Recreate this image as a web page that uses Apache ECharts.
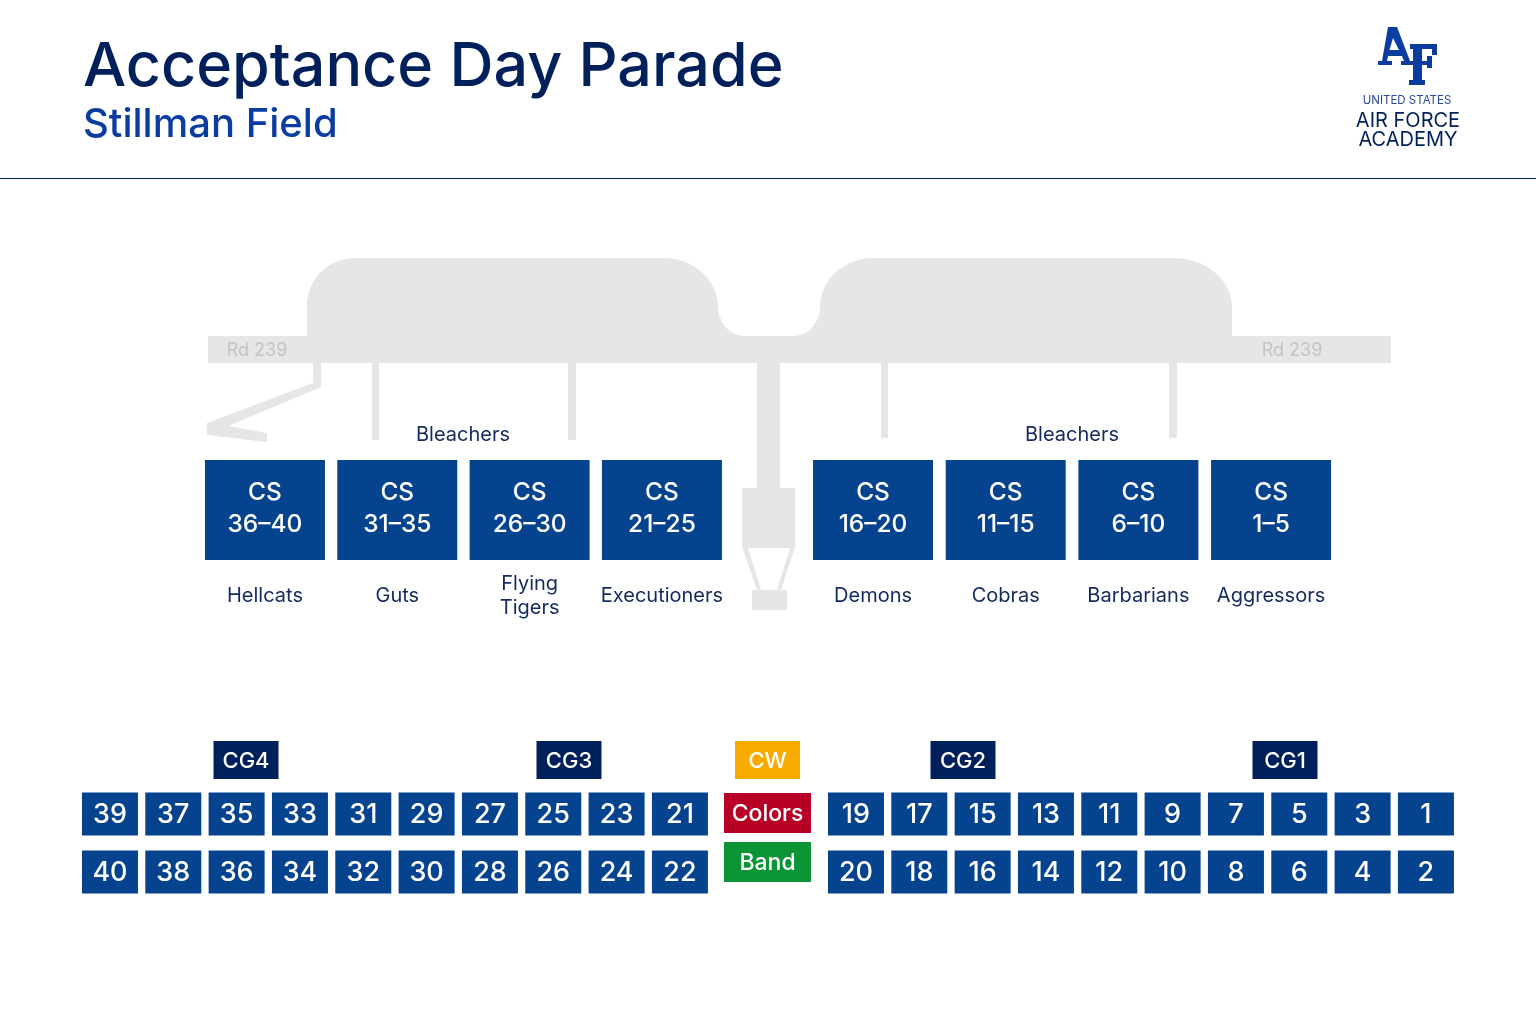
<!DOCTYPE html>
<html>
<head>
<meta charset="utf-8">
<title>Acceptance Day Parade</title>
<script src="https://cdn.jsdelivr.net/npm/echarts@6/dist/echarts.min.js"></script>
<style>
  html, body { margin: 0; background: #fff; }
  #chart { width: 1536px; height: 1024px; }
</style>
</head>
<body>
<div id="chart"></div>
<script>
// chart data
var csLeft = ['CS\n36–40', 'CS\n31–35', 'CS\n26–30', 'CS\n21–25'];
var csRight = ['CS\n16–20', 'CS\n11–15', 'CS\n6–10', 'CS\n1–5'];
var namesLeft = ['Hellcats', 'Guts', 'Flying\nTigers', 'Executioners'];
var namesRight = ['Demons', 'Cobras', 'Barbarians', 'Aggressors'];
var oddLeft = ['39', '37', '35', '33', '31', '29', '27', '25', '23', '21'];
var evenLeft = ['40', '38', '36', '34', '32', '30', '28', '26', '24', '22'];
var oddRight = ['19', '17', '15', '13', '11', '9', '7', '5', '3', '1'];
var evenRight = ['20', '18', '16', '14', '12', '10', '8', '6', '4', '2'];
var groupsLeft = ['CG4', 'CG3'];
var groupsRight = ['CG2', 'CG1'];
var wing = ['CW'];
var centre = ['Colors', 'Band'];

var FONT = 'Inter';
var NAVY = '#00205b', BLUE = '#06438f', ROYAL = '#0b3da0', GREY = '#e6e6e6';

var grids = [], xAxes = [], yAxes = [], series = [];

// site plan and logo outlines, drawn once behind everything
var groundPath = 'M208,336 L307,336 L307,307 C307,278 328,258 357,258 L663,258 ' +
  'C694,258 718,280 718,307 C718,312 719,315 720,317 C723,328 733,336 745,336 L793,336 ' +
  'C805,336 815,328 818,317 C819,315 820,312 820,307 C820,280 844,258 873,258 L1173,258 ' +
  'C1206,258 1232,280 1232,307 L1232,336 L1391,336 L1391,363 L780,363 L780,488 L795,488 ' +
  'L795,547 L781,590 L787,590 L787,610 L752,610 L752,590 L757,590 L742,547 L742,488 L757,488 ' +
  'L757,363 L208,363 Z M748,548 L761,590 L777,590 L790,548 Z';
var logoA = 'M1388,27 L1397,27 L1410,61 L1427,61 L1427,56 L1432,56 L1432,68 L1427,68 L1427,65 L1401,65 ' +
  'L1401,61 L1404,61 L1402,56 L1388,56 L1387,61 L1392,61 L1392,65 L1378,65 L1378,61 L1382,61 Z ' +
  'M1393,38 L1389.5,50 L1399,50 Z';
var logoF = 'M1410,44 L1437,44 L1437,55 L1432,55 L1432,49 L1422,49 L1422,80 L1425,80 L1425,85 L1409,85 ' +
  'L1409,80 L1413,80 L1413,49 L1410,49 Z';

function outline(d, x, y, w, h, fill) {
  return { type: 'path', shape: { pathData: d, layout: 'cover', x: x, y: y, width: w, height: h }, style: { fill: fill } };
}

series.push({
  type: 'custom', coordinateSystem: 'none', silent: true, z: 0, data: [0],
  renderItem: function () {
    return {
      type: 'group',
      children: [
        outline(groundPath, 208, 258, 1183, 352, GREY),
        outline(logoA, 1378, 27, 54, 41, ROYAL),
        outline(logoF, 1409, 44, 28, 41, ROYAL)
      ]
    };
  }
});

// one block = a grid with its own band axes, cells are drawn in the middle of each band
function addBlock(rect, cols, rows, cells, box, xLabel) {
  var i = grids.length;
  grids.push({ left: rect[0], top: rect[1], width: rect[2], height: rect[3] });
  xAxes.push({
    gridIndex: i, type: 'category', data: cols, show: !!xLabel,
    axisLine: { show: false }, axisTick: { show: false }, axisLabel: xLabel || {}
  });
  yAxes.push({ gridIndex: i, type: 'category', data: rows, inverse: true, show: false });
  series.push({
    type: 'custom', xAxisIndex: i, yAxisIndex: i, silent: true, clip: false, z: 2,
    data: cells.map(function (c) { return { name: c.text, value: [c.col, c.row] }; }),
    renderItem: function (params, api) {
      var p = api.coord([api.value(0), api.value(1)]);
      var cell = cells[params.dataIndex];
      return {
        type: 'group',
        children: [{
          type: 'rect',
          shape: { x: p[0] - box.w / 2, y: p[1] - box.h / 2, width: box.w, height: box.h },
          style: { fill: cell.fill || box.fill }
        }, {
          type: 'text',
          style: {
            text: cell.text, x: p[0], y: p[1] + (box.dy || 0), fill: '#fff',
            font: '500 ' + box.size + 'px ' + FONT, lineHeight: box.lh || box.size,
            align: 'center', verticalAlign: 'middle'
          }
        }]
      };
    }
  });
}

function rowCells(list, row) {
  return list.map(function (t, k) { return { text: t, col: k, row: row }; });
}

var nameLabel = {
  interval: 0, margin: 36, verticalAlign: 'middle', align: 'center',
  color: '#14295e', fontFamily: FONT, fontSize: 20, lineHeight: 24
};
var csBox = { w: 120, h: 100, fill: BLUE, size: 24.5, lh: 32, dy: -1 };
var sqBox = { w: 56, h: 43, fill: BLUE, size: 27, dy: 1 };
var cgBox = { w: 65, h: 38, fill: NAVY, size: 22, dy: 1 };

addBlock([198.8, 460, 529.3, 100], namesLeft, ['cs'], rowCells(csLeft, 0), csBox, nameLabel);
addBlock([806.7, 460, 530.7, 100], namesRight, ['cs'], rowCells(csRight, 0), csBox, nameLabel);

addBlock([78.3, 785, 633.3, 116], oddLeft, ['odd', 'even'],
  rowCells(oddLeft, 0).concat(rowCells(evenLeft, 1)), sqBox);
addBlock([824.3, 785, 633.3, 116], oddRight, ['odd', 'even'],
  rowCells(oddRight, 0).concat(rowCells(evenRight, 1)), sqBox);

addBlock([84.5, 741, 646, 38], groupsLeft, ['cg'], rowCells(groupsLeft, 0), cgBox);
addBlock([802, 741, 644, 38], groupsRight, ['cg'], rowCells(groupsRight, 0), cgBox);
addBlock([735, 741, 65, 38], wing, ['cw'], rowCells(wing, 0), { w: 65, h: 38, fill: '#f9ab00', size: 22, dy: 1 });
addBlock([724, 788.5, 87, 98], ['c'], centre, [
  { text: centre[0], col: 0, row: 0, fill: '#b80027' },
  { text: centre[1], col: 0, row: 1, fill: '#0a9436' }
], { w: 87, h: 40, size: 23, dy: 1 });

function box(x, y, w, h) {
  return { type: 'rect', shape: { x: x, y: y, width: w, height: h }, style: { fill: GREY }, silent: true };
}
function label(t, x, y, size, color, weight) {
  return {
    type: 'text', x: x, y: y, z: 5, silent: true,
    style: {
      text: t, fill: color, align: 'center', verticalAlign: 'middle',
      font: (weight || 400) + ' ' + size + 'px ' + FONT
    }
  };
}

var graphics = [
  { type: 'line', shape: { x1: 0, y1: 178.5, x2: 1536, y2: 178.5 }, style: { stroke: NAVY, lineWidth: 1 } },
  { type: 'polygon', shape: { points: [[313, 363], [321, 363], [321, 387], [228, 426], [267, 433], [267, 442], [207, 435], [207, 423], [313, 383]] }, style: { fill: GREY } },
  box(372, 363, 7, 77), box(568, 363, 8, 77), box(881, 363, 7, 75), box(1169, 363, 8, 75),
  label('Rd 239', 257, 351, 18, '#c4c4c4'),
  label('Rd 239', 1292, 351, 18, '#c4c4c4'),
  label('Bleachers', 463, 435, 20, '#14295e'),
  label('Bleachers', 1072, 435, 20, '#14295e'),
  label('UNITED STATES', 1407, 101, 11.5, '#2b4a9a'),
  label('AIR FORCE', 1408, 121, 20, NAVY),
  label('ACADEMY', 1408, 140, 20, NAVY)
];

var myChart = echarts.init(document.getElementById('chart'));
myChart.setOption({
  animation: false,
  backgroundColor: '#fff',
  title: {
    text: 'Acceptance Day Parade',
    subtext: 'Stillman Field',
    left: 78, top: 32, itemGap: 7,
    textStyle: { fontFamily: FONT, fontSize: 61, fontWeight: 500, color: NAVY },
    subtextStyle: { fontFamily: FONT, fontSize: 40, fontWeight: 500, color: ROYAL }
  },
  tooltip: { show: false },
  grid: grids,
  xAxis: xAxes,
  yAxis: yAxes,
  series: series,
  graphic: graphics
});
window.addEventListener('resize', function () {
  myChart.resize();
});
</script>
</body>
</html>
